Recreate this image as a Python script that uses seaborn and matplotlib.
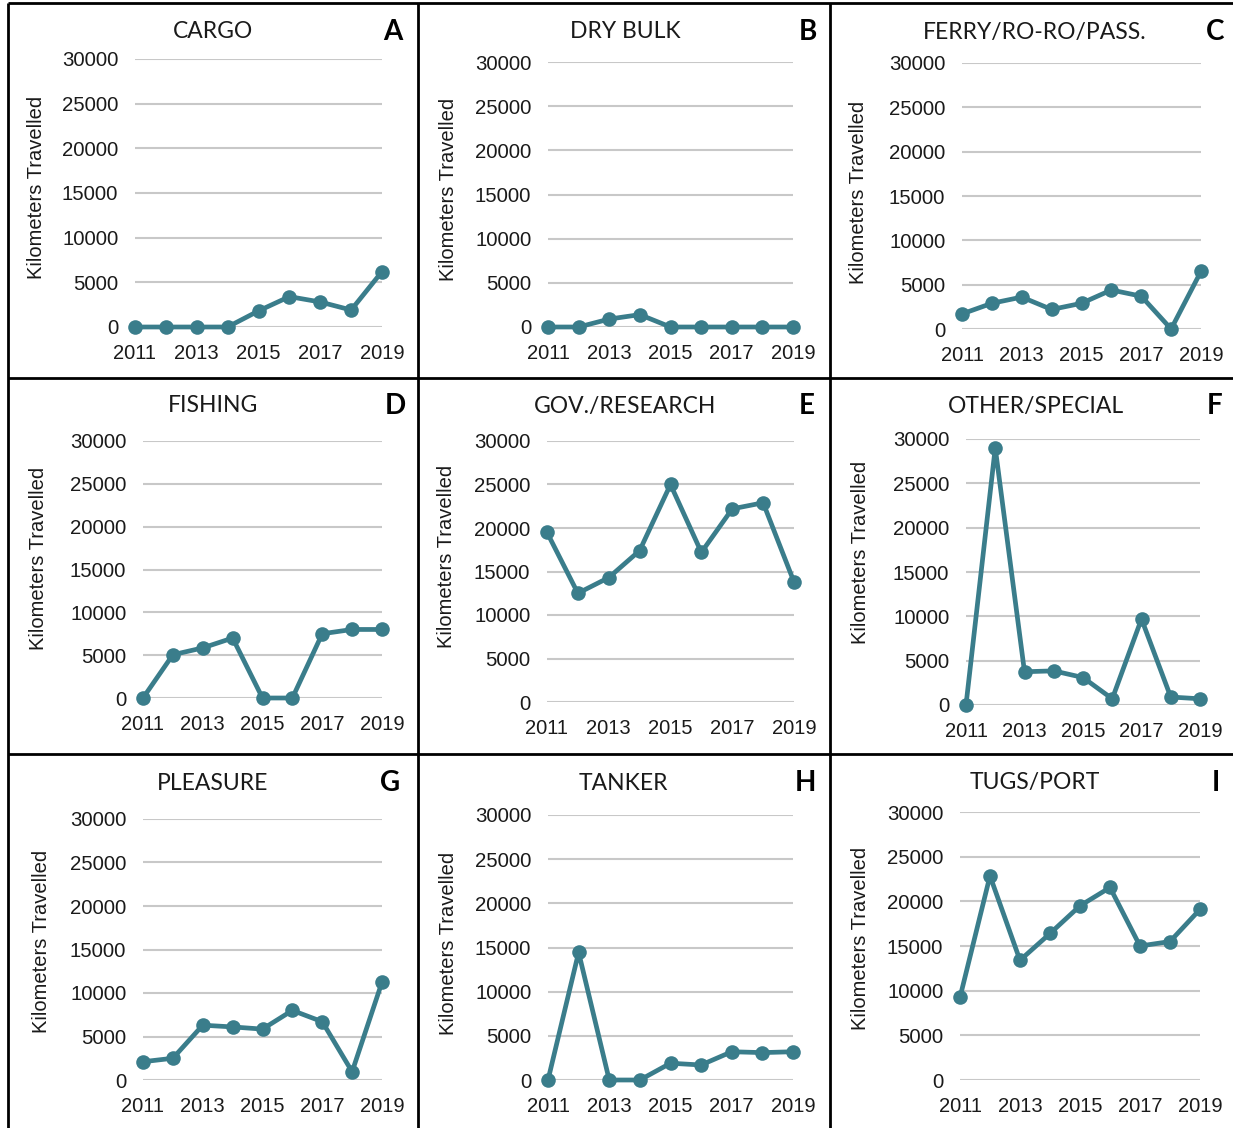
import matplotlib
matplotlib.use("Agg")
import matplotlib.pyplot as plt
import pandas as pd
import seaborn as sns
from matplotlib.lines import Line2D

# Annual kilometres travelled by vessel type
years = [2011, 2012, 2013, 2014, 2015, 2016, 2017, 2018, 2019]
cargo = [0, 0, 0, 0, 1800, 3400, 2800, 1900, 6200]
dry_bulk = [0, 0, 900, 1400, 0, 0, 0, 0, 0]
ferry = [1700, 2900, 3600, 2200, 2900, 4400, 3700, 0, 6500]
fishing = [0, 5050, 5850, 7000, 0, 0, 7500, 8000, 8000]
gov_research = [19500, 12500, 14300, 17400, 25000, 17200, 22200, 22900, 13800]
other_special = [0, 29000, 3750, 3850, 3100, 700, 9700, 900, 700]
pleasure = [2100, 2500, 6300, 6100, 5850, 8000, 6700, 950, 11250]
tanker = [0, 14450, 0, 0, 1900, 1700, 3200, 3100, 3200]
tugs_port = [9250, 22850, 13400, 16400, 19500, 21550, 15000, 15500, 19100]

titles = ["CARGO", "DRY BULK", "FERRY/RO-RO/PASS.", "FISHING", "GOV./RESEARCH",
          "OTHER/SPECIAL", "PLEASURE", "TANKER", "TUGS/PORT"]
letters = ["A", "B", "C", "D", "E", "F", "G", "H", "I"]
series = [cargo, dry_bulk, ferry, fishing, gov_research,
          other_special, pleasure, tanker, tugs_port]
y_ticks = [0, 5000, 10000, 15000, 20000, 25000, 30000]
x_ticks = [2011, 2013, 2015, 2017, 2019]
y_label = "Kilometers Travelled"

df = pd.DataFrame(
    [(t, y, v) for t, vals in zip(titles, series) for y, v in zip(years, vals)],
    columns=["vessel", "year", "km"],
)

W, H = 1233, 1128
sns.set_theme(style="white")
plt.rcParams["font.family"] = ["Liberation Sans", "DejaVu Sans"]

TEAL = "#3a7d8b"
GRID = "#c8c8c8"
TEXT = "#1a1a1a"

# panel layout in pixels: axes box (left, right, top, bottom), title xy, letter xy, ylabel xy
layout = [
    ((135, 382, 59, 327), (213, 32), (393, 32), (37, 187)),
    ((548, 793, 62, 327), (625, 32), (808, 32), (448, 189)),
    ((962, 1201, 63, 329), (1035, 32), (1215, 32), (859, 192)),
    ((143, 382, 441, 698), (213, 406), (395, 406), (39, 558)),
    ((547, 794, 441, 702), (625, 406), (807, 406), (446, 556)),
    ((966, 1200, 439, 705), (1036, 406), (1215, 406), (860, 552)),
    ((143, 382, 819, 1080), (213, 783), (390, 783), (42, 941)),
    ((548, 793, 815, 1080), (623, 783), (805, 783), (448, 943)),
    ((960, 1200, 812, 1080), (1035, 783), (1216, 783), (860, 938)),
]

fig = plt.figure(figsize=(W / 100, H / 100), dpi=100)
fig.patch.set_facecolor("white")


def fx(x):
    return x / W


def fy(y):
    return 1 - y / H


for title, letter, (box, tpos, lpos, ypos) in zip(titles, letters, layout):
    l, r, t, b = box
    ax = fig.add_axes([fx(l), fy(b), fx(r) - fx(l), fy(t) - fy(b)])
    sns.lineplot(
        data=df[df["vessel"] == title], x="year", y="km", ax=ax,
        color=TEAL, linewidth=3.4, marker="o", markersize=10.5,
        markeredgewidth=0, clip_on=False, zorder=5,
    )
    ax.set_xlim(2011, 2019)
    ax.set_ylim(0, 30000)
    ax.set_yticks(y_ticks)
    ax.set_xticks(x_ticks)
    ax.set_yticklabels([str(v) for v in y_ticks])
    ax.set_xticklabels([str(v) for v in x_ticks])
    ax.tick_params(axis="y", length=0, pad=12, labelsize=14.7, labelcolor=TEXT)
    ax.tick_params(axis="x", length=0, pad=12, labelsize=14.5, labelcolor=TEXT)
    ax.grid(axis="y", color=GRID, linewidth=1.5)
    ax.grid(axis="x", visible=False)
    for s in ax.spines.values():
        s.set_visible(False)
    ax.set_xlabel("")
    ax.set_ylabel("")
    ax.set_facecolor("none")

    fig.text(fx(ypos[0]), fy(ypos[1]), y_label, rotation=90, ha="center",
             va="center", fontsize=14.5, color=TEXT)
    fig.text(fx(tpos[0]), fy(tpos[1]), title, ha="center", va="center",
             fontsize=16.5, family=["Lato", "DejaVu Sans"], color=TEXT)
    fig.text(fx(lpos[0]), fy(lpos[1]), letter, ha="center", va="center",
             fontsize=20, fontweight="bold", family=["Lato", "DejaVu Sans"],
             color="black")

# panel frame lines
frame_kw = dict(color="black", linewidth=2.0, solid_capstyle="butt")
for x in (8, 418, 830):
    fig.add_artist(Line2D([fx(x), fx(x)], [fy(3), 0], transform=fig.transFigure, **frame_kw))
for y in (3, 378, 754):
    fig.add_artist(Line2D([fx(8), 1], [fy(y), fy(y)], transform=fig.transFigure, **frame_kw))

fig.savefig("out.png", dpi=100, facecolor="white")
